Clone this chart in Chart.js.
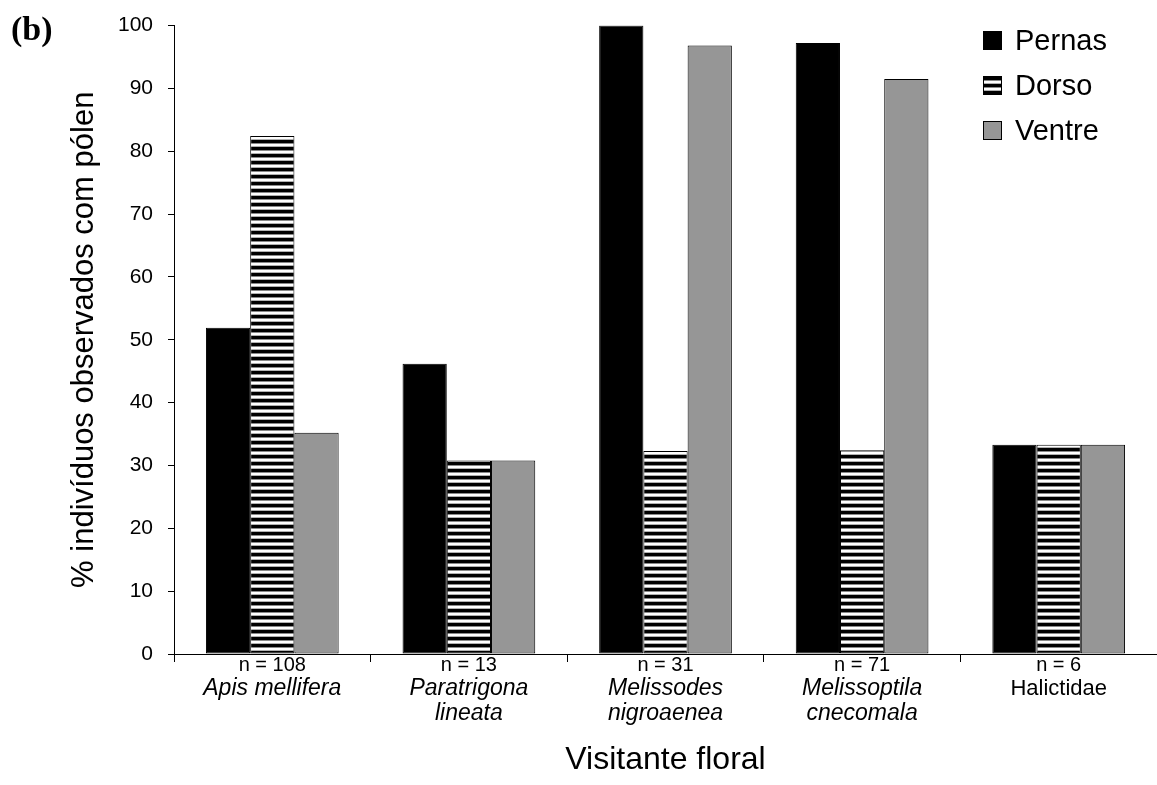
<!DOCTYPE html>
<html>
<head>
<meta charset="utf-8">
<script src="https://cdn.jsdelivr.net/npm/chart.js@4/dist/chart.umd.min.js"></script>
<style>
  html, body { margin: 0; padding: 0; background: #ffffff; }
  canvas { display: block; }
</style>
</head>
<body>
<canvas id="chart" width="1157" height="785"></canvas>
<script>
// Pollen presence on body regions of floral visitors (% of observed individuals)
const sampleSizes = ['n = 108', 'n = 13', 'n = 31', 'n = 71', 'n = 6'];
const visitorNames = [['Apis mellifera'], ['Paratrigona', 'lineata'], ['Melissodes', 'nigroaenea'], ['Melissoptila', 'cnecomala'], ['Halictidae']];
const italicName = [true, true, true, true, false];
const seriesNames = ['Pernas', 'Dorso', 'Ventre'];
const pernas = [51.9, 46.2, 100, 97.2, 33.3];
const dorso = [82.4, 30.8, 32.3, 32.4, 33.3];
const ventre = [35.2, 30.8, 96.8, 91.5, 33.3];

const FONT = "'Liberation Sans', Arial, sans-serif";

// horizontal black/white stripes used for the "Dorso" bars
function makeStripes() {
  const c = document.createElement('canvas');
  c.width = 8; c.height = 7;
  const g = c.getContext('2d');
  const rows = ['#000000', '#000000', '#000000', '#8a8a8a', '#ffffff', '#ffffff', '#b0b0b0'];
  rows.forEach((col, i) => { g.fillStyle = col; g.fillRect(0, i, 8, 1); });
  return g.createPattern(c, 'repeat');
}
const stripes = makeStripes();
const fills = ['#000000', stripes, '#969696'];

const categoryLabels = sampleSizes.map((s, i) => [s].concat(visitorNames[i]));

// category captions: sample size on the first line, visitor name below
const captionPlugin = {
  id: 'captions',
  afterDraw(chart) {
    const ctx = chart.ctx;
    const xs = chart.scales.x;
    ctx.save();
    ctx.fillStyle = '#000';
    ctx.textAlign = 'center';
    ctx.textBaseline = 'middle';
    sampleSizes.forEach((s, i) => {
      const x = xs.getPixelForValue(i);
      ctx.font = '20px ' + FONT;
      ctx.fillText(s, x, 665);
      ctx.font = italicName[i] ? 'italic 23px ' + FONT : '22px ' + FONT;
      visitorNames[i].forEach((line, k) => ctx.fillText(line, x, 689 + k * 25));
    });
    // panel tag
    ctx.textAlign = 'left';
    ctx.font = "bold 34px 'Liberation Serif', 'Times New Roman', serif";
    ctx.fillText('(b)', 11, 31);
    ctx.restore();
  }
};

// legend in the upper right corner
const legendPlugin = {
  id: 'cornerLegend',
  afterDraw(chart) {
    const ctx = chart.ctx;
    ctx.save();
    chart.data.datasets.forEach((ds, i) => {
      const bx = 983, by = 31 + i * 45, s = 19;
      ctx.fillStyle = ds.backgroundColor;
      ctx.fillRect(bx, by, s, s);
      ctx.strokeStyle = '#000';
      ctx.lineWidth = 1;
      ctx.strokeRect(bx + 0.5, by + 0.5, s - 1, s - 1);
      ctx.fillStyle = '#000';
      ctx.font = '29px ' + FONT;
      ctx.textBaseline = 'middle';
      ctx.textAlign = 'left';
      ctx.fillText(ds.label, 1015, by + s / 2 + 1);
    });
    ctx.restore();
  }
};

new Chart(document.getElementById('chart'), {
  type: 'bar',
  data: {
    labels: categoryLabels,
    datasets: [pernas, dorso, ventre].map((vals, i) => ({
      label: seriesNames[i],
      data: vals,
      backgroundColor: fills[i],
      borderColor: '#000000',
      borderWidth: 1,
      borderSkipped: false
    }))
  },
  options: {
    responsive: false,
    animation: false,
    devicePixelRatio: 1,
    layout: { padding: { top: 24, right: 0, left: 0, bottom: 0 } },
    datasets: { bar: { barPercentage: 1, categoryPercentage: 0.675 } },
    plugins: {
      legend: { display: false },
      tooltip: { enabled: false }
    },
    scales: {
      x: {
        offset: true,
        grid: { offset: true, drawOnChartArea: false, drawTicks: true, tickLength: 8, color: '#000' },
        border: { display: true, color: '#000', width: 1 },
        ticks: { callback: () => '', font: { size: 1 } },
        title: { display: true, text: 'Visitante floral', color: '#000', font: { family: FONT, size: 32 }, padding: { top: 0, bottom: 6 } },
        afterFit(scale) { scale.height = 131; }
      },
      y: {
        min: 0,
        max: 100,
        grid: { drawOnChartArea: false, drawTicks: true, tickLength: 6, color: '#000' },
        border: { display: true, color: '#000', width: 1 },
        ticks: { stepSize: 10, color: '#000', padding: 15, font: { family: FONT, size: 21, lineHeight: 1 } },
        title: { display: true, text: '% indivíduos observados com pólen', color: '#000', font: { family: FONT, size: 31 }, padding: { top: 66, bottom: 0 } },
        afterFit(scale) { scale.width = 174; }
      }
    }
  },
  plugins: [captionPlugin, legendPlugin]
});
</script>
</body>
</html>
